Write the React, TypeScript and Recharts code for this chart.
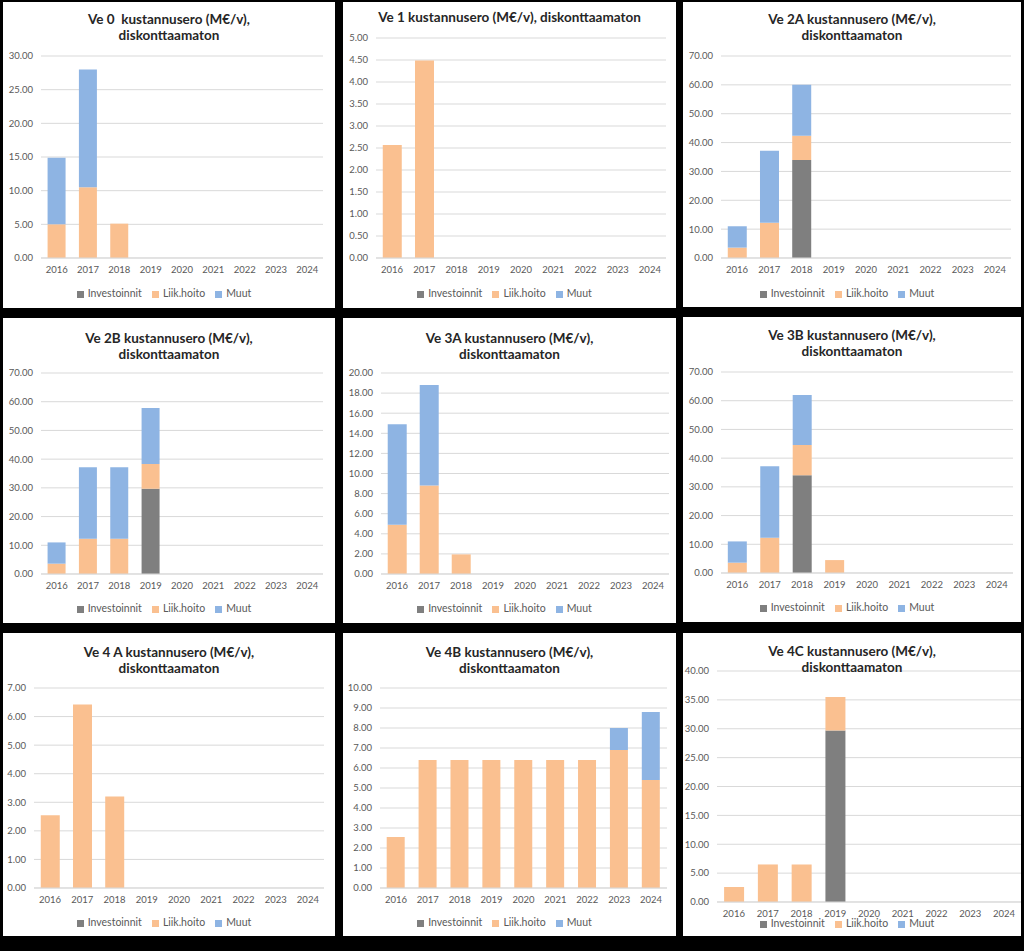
import React from 'react';
import { BarChart, Bar, XAxis, YAxis, CartesianGrid, Legend } from 'recharts';

const years = ['2016', '2017', '2018', '2019', '2020', '2021', '2022', '2023', '2024'];

// Ve 0
const ve0Inv = [0, 0, 0, 0, 0, 0, 0, 0, 0];
const ve0Liik = [5.0, 10.5, 5.1, 0, 0, 0, 0, 0, 0];
const ve0Muut = [9.9, 17.5, 0, 0, 0, 0, 0, 0, 0];
// Ve 1
const ve1Inv = [0, 0, 0, 0, 0, 0, 0, 0, 0];
const ve1Liik = [2.57, 4.49, 0, 0, 0, 0, 0, 0, 0];
const ve1Muut = [0, 0, 0, 0, 0, 0, 0, 0, 0];
// Ve 2A
const ve2aInv = [0, 0, 34.0, 0, 0, 0, 0, 0, 0];
const ve2aLiik = [3.6, 12.2, 8.4, 0, 0, 0, 0, 0, 0];
const ve2aMuut = [7.4, 25.0, 17.6, 0, 0, 0, 0, 0, 0];
// Ve 2B
const ve2bInv = [0, 0, 0, 29.7, 0, 0, 0, 0, 0];
const ve2bLiik = [3.6, 12.3, 12.3, 8.6, 0, 0, 0, 0, 0];
const ve2bMuut = [7.4, 24.9, 24.9, 19.5, 0, 0, 0, 0, 0];
// Ve 3A
const ve3aInv = [0, 0, 0, 0, 0, 0, 0, 0, 0];
const ve3aLiik = [4.9, 8.8, 1.95, 0, 0, 0, 0, 0, 0];
const ve3aMuut = [10.0, 10.0, 0, 0, 0, 0, 0, 0, 0];
// Ve 3B
const ve3bInv = [0, 0, 34.0, 0, 0, 0, 0, 0, 0];
const ve3bLiik = [3.6, 12.3, 10.6, 4.5, 0, 0, 0, 0, 0];
const ve3bMuut = [7.4, 24.9, 17.4, 0, 0, 0, 0, 0, 0];
// Ve 4 A
const ve4aInv = [0, 0, 0, 0, 0, 0, 0, 0, 0];
const ve4aLiik = [2.55, 6.42, 3.2, 0, 0, 0, 0, 0, 0];
const ve4aMuut = [0, 0, 0, 0, 0, 0, 0, 0, 0];
// Ve 4B
const ve4bInv = [0, 0, 0, 0, 0, 0, 0, 0, 0];
const ve4bLiik = [2.55, 6.4, 6.4, 6.4, 6.4, 6.4, 6.4, 6.9, 5.4];
const ve4bMuut = [0, 0, 0, 0, 0, 0, 0, 1.1, 3.4];
// Ve 4C
const ve4cInv = [0, 0, 0, 29.7, 0, 0, 0, 0, 0];
const ve4cLiik = [2.6, 6.5, 6.5, 5.8, 0, 0, 0, 0, 0];
const ve4cMuut = [0, 0, 0, 0, 0, 0, 0, 0, 0];

const ticks30 = [0, 5, 10, 15, 20, 25, 30];
const ticks5 = [0, 0.5, 1, 1.5, 2, 2.5, 3, 3.5, 4, 4.5, 5];
const ticks70 = [0, 10, 20, 30, 40, 50, 60, 70];
const ticks20 = [0, 2, 4, 6, 8, 10, 12, 14, 16, 18, 20];
const ticks7 = [0, 1, 2, 3, 4, 5, 6, 7];
const ticks10 = [0, 1, 2, 3, 4, 5, 6, 7, 8, 9, 10];
const ticks40 = [0, 5, 10, 15, 20, 25, 30, 35, 40];

const seriesNames = ['Investoinnit', 'Liik.hoito', 'Muut'];
const COLORS = ['#7F7F7F', '#FAC090', '#8EB4E3'];
const FONT = 'Lato, "Open Sans", sans-serif';

type PanelCfg = {
  title: string[];
  left: number; top: number; w: number; h: number;
  plotLeft: number; plotRight: number; plotTop: number; plotBottom: number;
  legendY: number; titleY: number[];
  ticks: number[];
  inv: number[]; liik: number[]; muut: number[];
};

const panels: PanelCfg[] = [
  { title: ['Ve 0  kustannusero (M€/v),', 'diskonttaamaton'], left: 3, top: 2, w: 332, h: 306,
    plotLeft: 41, plotRight: 323, plotTop: 56, plotBottom: 258, legendY: 293, titleY: [19, 34],
    ticks: ticks30, inv: ve0Inv, liik: ve0Liik, muut: ve0Muut },
  { title: ['Ve 1 kustannusero (M€/v), diskonttaamaton'], left: 343, top: 2, w: 333, h: 306,
    plotLeft: 376, plotRight: 666, plotTop: 38, plotBottom: 258, legendY: 293, titleY: [17],
    ticks: ticks5, inv: ve1Inv, liik: ve1Liik, muut: ve1Muut },
  { title: ['Ve 2A kustannusero (M€/v),', 'diskonttaamaton'], left: 683, top: 2, w: 338, h: 305,
    plotLeft: 721, plotRight: 1011, plotTop: 56, plotBottom: 258, legendY: 293, titleY: [19, 34],
    ticks: ticks70, inv: ve2aInv, liik: ve2aLiik, muut: ve2aMuut },
  { title: ['Ve 2B kustannusero (M€/v),', 'diskonttaamaton'], left: 3, top: 318, w: 332, h: 305,
    plotLeft: 41, plotRight: 323, plotTop: 373, plotBottom: 574, legendY: 608, titleY: [338, 353],
    ticks: ticks70, inv: ve2bInv, liik: ve2bLiik, muut: ve2bMuut },
  { title: ['Ve 3A kustannusero (M€/v),', 'diskonttaamaton'], left: 343, top: 318, w: 333, h: 305,
    plotLeft: 381, plotRight: 669, plotTop: 373, plotBottom: 574, legendY: 608, titleY: [338, 353],
    ticks: ticks20, inv: ve3aInv, liik: ve3aLiik, muut: ve3aMuut },
  { title: ['Ve 3B kustannusero (M€/v),', 'diskonttaamaton'], left: 683, top: 317, w: 338, h: 305,
    plotLeft: 721, plotRight: 1013, plotTop: 372, plotBottom: 573, legendY: 607, titleY: [335, 352],
    ticks: ticks70, inv: ve3bInv, liik: ve3bLiik, muut: ve3bMuut },
  { title: ['Ve 4 A kustannusero (M€/v),', 'diskonttaamaton'], left: 3, top: 633, w: 332, h: 303,
    plotLeft: 34, plotRight: 324, plotTop: 688, plotBottom: 888, legendY: 922, titleY: [652, 667],
    ticks: ticks7, inv: ve4aInv, liik: ve4aLiik, muut: ve4aMuut },
  { title: ['Ve 4B kustannusero (M€/v),', 'diskonttaamaton'], left: 343, top: 633, w: 333, h: 303,
    plotLeft: 380, plotRight: 667, plotTop: 688, plotBottom: 888, legendY: 922, titleY: [652, 667],
    ticks: ticks10, inv: ve4bInv, liik: ve4bLiik, muut: ve4bMuut },
  { title: ['Ve 4C kustannusero (M€/v),', 'diskonttaamaton'], left: 683, top: 633, w: 338, h: 303,
    plotLeft: 717, plotRight: 1021, plotTop: 671, plotBottom: 902, legendY: 923, titleY: [651, 667],
    ticks: ticks40, inv: ve4cInv, liik: ve4cLiik, muut: ve4cMuut },
];

const LEGEND_H = 14;

function Panel({ cfg }: { cfg: PanelCfg }) {
  const data = years.map((y, i) => ({
    year: y,
    Investoinnit: cfg.inv[i],
    'Liik.hoito': cfg.liik[i],
    Muut: cfg.muut[i],
  }));
  const mTop = cfg.plotTop - cfg.top;
  const yW = cfg.plotLeft - cfg.left;
  const mRight = cfg.left + cfg.w - cfg.plotRight;
  const mBottom = cfg.h - (cfg.legendY - cfg.top) - LEGEND_H / 2;
  const xH = cfg.h - mBottom - LEGEND_H - (cfg.plotBottom - cfg.top);
  const max = cfg.ticks[cfg.ticks.length - 1];
  return (
    <div style={{ position: 'absolute', left: cfg.left, top: cfg.top, width: cfg.w, height: cfg.h, background: '#fff', overflow: 'hidden' }}>
      <BarChart width={cfg.w} height={cfg.h} data={data} margin={{ top: mTop, right: mRight, bottom: mBottom, left: 0 }} barCategoryGap="21%">
        <CartesianGrid vertical={false} stroke="#D9D9D9" />
        <XAxis dataKey="year" height={xH} tickLine={false} axisLine={{ stroke: '#D9D9D9' }} interval={0}
          tick={{ fontSize: 9.5, fill: '#595959', fontFamily: FONT }} />
        <YAxis width={yW} domain={[0, max]} ticks={cfg.ticks} interval={0} tickLine={false} axisLine={false}
          tickFormatter={(v: number) => v.toFixed(2)} tick={{ fontSize: 9.5, fill: '#595959', fontFamily: FONT }} />
        <Legend verticalAlign="bottom" align="center" iconType="square" iconSize={7} height={LEGEND_H}
          wrapperStyle={{ left: 0, width: cfg.w, fontSize: 10.5, fontFamily: FONT, lineHeight: `${LEGEND_H}px` }}
          formatter={(v: string) => <span style={{ color: '#595959' }}>{v}</span>} />
        {seriesNames.map((n, i) => (
          <Bar key={n} dataKey={n} stackId="a" fill={COLORS[i]} isAnimationActive={false} />
        ))}
      </BarChart>
      <div style={{ position: 'absolute', left: 0, top: cfg.titleY[0] - cfg.top - 8, width: cfg.w, textAlign: 'center',
        fontFamily: FONT, fontWeight: 700, fontSize: 13.5, lineHeight: '16px', color: '#262626', pointerEvents: 'none' }}>
        {cfg.title.map((t, i) => (<div key={i} style={{ whiteSpace: 'pre' }}>{t}</div>))}
      </div>
    </div>
  );
}

export default function App() {
  return (
    <div style={{ position: 'absolute', left: 0, top: 0, width: 1024, height: 951, background: '#000' }}>
      {panels.map((p, i) => (<Panel key={i} cfg={p} />))}
    </div>
  );
}
